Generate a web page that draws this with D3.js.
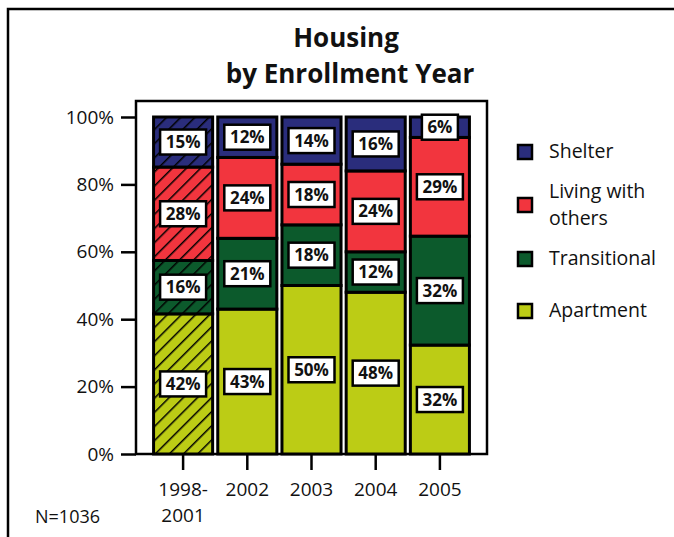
<!DOCTYPE html>
<html>
<head>
<meta charset="utf-8">
<script src="https://cdn.jsdelivr.net/npm/d3@7"></script>
<style>
  body { margin: 0; background: #fff; }
  text { font-family: "Open Sans", sans-serif; fill: #111; }
</style>
</head>
<body>
<div id="chart"></div>
<script>
(function() {

const w = 674;
const h = 537;

// data
const years = ["1998-2001", "2002", "2003", "2004", "2005"];
const housing = ["Apartment", "Transitional", "Living with others", "Shelter"];
const apartment = [42, 43, 50, 48, 32];
const transitional = [16, 21, 18, 12, 32];
const livingWithOthers = [28, 24, 18, 24, 29];
const shelter = [15, 12, 14, 16, 6];
const yTicks = [0, 0.2, 0.4, 0.6, 0.8, 1];
const colours = ["#bccc15", "#0c5a2c", "#f2353e", "#2a2d7c"];

const dataset = years.map(function(y, i) {
    return {
        year: y,
        "Apartment": apartment[i],
        "Transitional": transitional[i],
        "Living with others": livingWithOthers[i],
        "Shelter": shelter[i]
    };
});

const svg = d3.select("#chart")
    .append("svg")
    .attr("width", w)
    .attr("height", h);

// hatch pattern for first bar, one per colour
const defs = svg.append("defs");
colours.forEach(function(c, i) {
    const p = defs.append("pattern")
        .attr("id", "hatch" + i)
        .attr("patternUnits", "userSpaceOnUse")
        .attr("width", 10)
        .attr("height", 10)
        .attr("patternTransform", "rotate(45)");
    p.append("rect").attr("width", 10).attr("height", 10).attr("fill", c);
    p.append("line")
        .attr("x1", 0).attr("y1", 0)
        .attr("x2", 0).attr("y2", 10)
        .attr("stroke", "#000")
        .attr("stroke-width", 3);
});

// outer frame
svg.append("path")
    .attr("d", "M8," + (h + 5) + "V9H" + (w + 5))
    .attr("fill", "none")
    .attr("stroke", "#000")
    .attr("stroke-width", 2.5);

// title
svg.append("text")
    .attr("x", 346).attr("y", 47)
    .attr("text-anchor", "middle")
    .style("font-size", "26px").style("font-weight", "bold")
    .text("Housing");
svg.append("text")
    .attr("x", 350).attr("y", 83)
    .attr("text-anchor", "middle")
    .style("font-size", "26px").style("font-weight", "bold")
    .text("by Enrollment Year");

const box = { left: 136, right: 487, top: 101, bottom: 454 };

const x = d3.scaleBand()
    .domain(years)
    .range([151, 472])
    .paddingInner(0.08)
    .paddingOuter(0.04);

const y = d3.scaleLinear()
    .domain([0, 1])
    .range([454, 117]);

// plot box
svg.append("rect")
    .attr("x", box.left).attr("y", box.top)
    .attr("width", box.right - box.left)
    .attr("height", box.bottom - box.top)
    .attr("fill", "none")
    .attr("stroke", "#000")
    .attr("stroke-width", 2.5);

const stack = d3.stack()
    .keys(housing)
    .offset(d3.stackOffsetExpand);
const series = stack(dataset);

const layers = svg.selectAll("g.layer")
    .data(series)
    .enter()
    .append("g")
    .attr("class", "layer");

layers.selectAll("rect")
    .data(function(d, k) {
        return d.map(function(v) { return { v: v, k: k, key: d.key }; });
    })
    .enter()
    .append("rect")
    .attr("x", function(d) { return x(d.v.data.year); })
    .attr("y", function(d) { return y(d.v[1]); })
    .attr("width", x.bandwidth())
    .attr("height", function(d) { return y(d.v[0]) - y(d.v[1]); })
    .attr("fill", function(d) {
        return d.v.data.year === years[0] ? "url(#hatch" + d.k + ")" : colours[d.k];
    })
    .attr("stroke", "#000")
    .attr("stroke-width", 3);

// value labels
const labels = svg.selectAll("g.layer").selectAll("g.lab")
    .data(function(d) { return d.map(function(v) { return { v: v, key: d.key }; }); })
    .enter()
    .append("g")
    .attr("class", "lab")
    .attr("transform", function(d) {
        return "translate(" + (x(d.v.data.year) + x.bandwidth() / 2) + "," + y((d.v[0] + d.v[1]) / 2) + ")";
    });

labels.append("rect")
    .attr("x", function(d) { return d.v.data[d.key] < 10 ? -18 : -23; })
    .attr("y", -12.5)
    .attr("width", function(d) { return d.v.data[d.key] < 10 ? 36 : 46; })
    .attr("height", 25)
    .attr("fill", "#fff")
    .attr("stroke", "#000")
    .attr("stroke-width", 2.5);

labels.append("text")
    .attr("text-anchor", "middle")
    .attr("dy", "0.36em")
    .style("font-size", "17px")
    .style("font-weight", "bold")
    .text(function(d) { return d.v.data[d.key] + "%"; });

// y axis
const yAxis = svg.append("g")
    .attr("transform", "translate(" + box.left + ",0)")
    .call(d3.axisLeft(y)
        .tickValues(yTicks)
        .tickFormat(d3.format(".0%"))
        .tickSize(15)
        .tickPadding(7));
yAxis.select(".domain").remove();
yAxis.selectAll(".tick line").attr("stroke", "#000").attr("stroke-width", 2.5);
yAxis.selectAll(".tick text")
    .style("font-size", "19px")
    .style("font-family", "Open Sans, sans-serif")
    .attr("fill", "#111");

// x axis
const xAxis = svg.append("g")
    .attr("transform", "translate(0," + box.bottom + ")")
    .call(d3.axisBottom(x).tickSize(16).tickPadding(0).tickFormat(""));
xAxis.select(".domain").remove();
xAxis.selectAll(".tick line").attr("stroke", "#000").attr("stroke-width", 2.5);

xAxis.selectAll(".tick").append("text")
    .style("font-size", "19px")
    .attr("fill", "#111")
    .attr("text-anchor", "middle")
    .each(function(d) {
        const parts = d.indexOf("-") > 0 ? [d.split("-")[0] + "-", d.split("-")[1]] : [d];
        d3.select(this).selectAll("tspan")
            .data(parts)
            .enter()
            .append("tspan")
            .attr("x", 0)
            .attr("y", function(p, i) { return 42 + i * 26; })
            .text(function(p) { return p; });
    });

// legend
const legendItems = [
    { name: ["Shelter"], k: 3, cy: 152 },
    { name: ["Living with", "others"], k: 2, cy: 205 },
    { name: ["Transitional"], k: 1, cy: 259 },
    { name: ["Apartment"], k: 0, cy: 311 }
];

const legend = svg.selectAll("g.legend")
    .data(legendItems)
    .enter()
    .append("g")
    .attr("class", "legend")
    .attr("transform", function(d) { return "translate(518," + d.cy + ")"; });

legend.append("rect")
    .attr("x", 0).attr("y", -7)
    .attr("width", 14).attr("height", 14)
    .attr("fill", function(d) { return colours[d.k]; })
    .attr("stroke", "#000")
    .attr("stroke-width", 2.5);

legend.append("text")
    .style("font-size", "19.5px")
    .each(function(d) {
        d3.select(this).selectAll("tspan")
            .data(d.name)
            .enter()
            .append("tspan")
            .attr("x", 31)
            .attr("y", function(p, i) {
                return d.name.length > 1 ? -7 + i * 27 : 6;
            })
            .text(function(p) { return p; });
    });

// footnote
svg.append("text")
    .attr("x", 35).attr("y", 523)
    .style("font-size", "18px")
    .text("N=1036");

})();
</script>
</body>
</html>
